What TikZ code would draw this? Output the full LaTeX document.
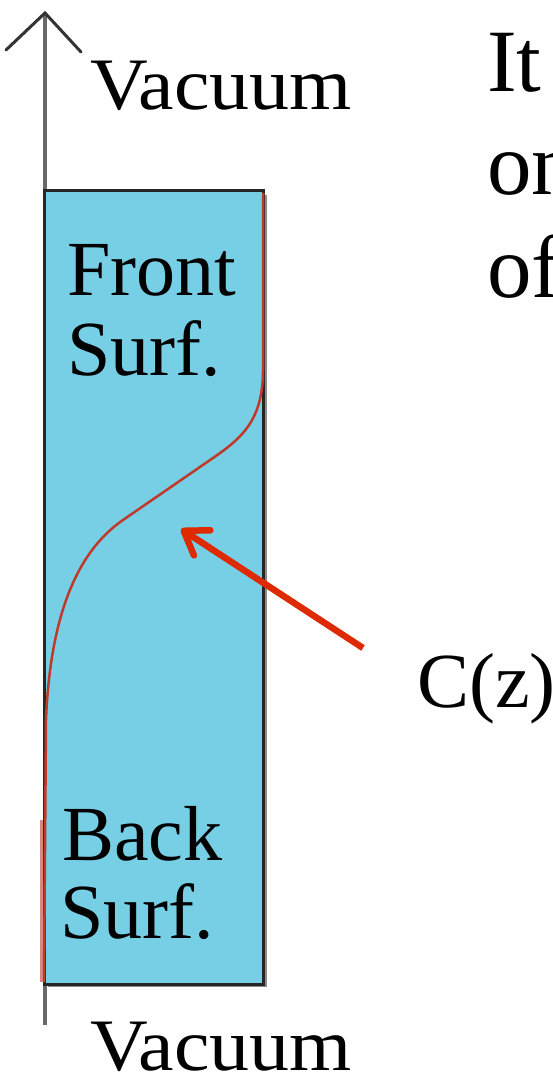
\documentclass[tikz,border=0pt]{standalone}
\usepackage{fontspec}
\setmainfont{Liberation Serif}
\usetikzlibrary{arrows.meta}
\definecolor{slab}{RGB}{118,207,228}
\definecolor{curvered}{RGB}{192,57,43}
\definecolor{arrowred}{RGB}{222,42,0}
\definecolor{axisgray}{RGB}{105,105,105}
\tikzset{
  lbl/.style={anchor=base west, inner sep=0pt, outer sep=0pt, text=black},
  big/.style={lbl, font=\fontsize{78}{80}\selectfont},
  vac/.style={lbl, xscale=1.08, font=\fontsize{74}{76}\selectfont},
  huge/.style={lbl, font=\fontsize{89}{92}\selectfont},
}
\begin{document}
\begin{tikzpicture}[x=1pt,y=-1pt]
\useasboundingbox (0,0) rectangle (552,1078);
\begin{scope}
\clip (0,0) rectangle (552,1078);
% axis
\coordinate (axbot) at (45,1025);
\coordinate (axtop) at (45,13);
\coordinate (hl) at (6,50);
\coordinate (hr) at (81,52);
\draw[axisgray, line width=4pt] (axbot) -- (axtop);
\draw[black!80, line width=3pt, line cap=round, line join=miter] (hl) -- (axtop) -- (hr);
% slab with shadow
\fill[black!45] (48,195) rectangle (267,987);
\draw[black!85, line width=3pt, fill=slab] (44,191) rectangle (263,984);
% stray faint red segment along left edge
\draw[curvered!60, line width=3pt] (41,820) -- (41,982);
% concentration profile
\draw[curvered, line width=2.5pt]
  (263,193) -- (263,370)
  .. controls (263,420) and (242,438) .. (213,458)
  -- (123,520)
  .. controls (75,553) and (50,620) .. (46,720)
  -- (44,982);
% labels
\node[vac] (vtop) at (90,110) {Vacuum};
\node[vac] (vbot) at (90,1070) {Vacuum};
\node[big] (front) at (67,295) {Front};
\node[big] (fsurf) at (67,375) {Surf.};
\node[big] (back) at (62,860) {Back};
\node[big] (bsurf) at (60,938) {Surf.};
\node[big] (cz) at (417,707) {C(z)};
\node[huge] (l1) at (487,92) {It};
\node[huge] (l2) at (487,195) {on};
\node[huge] (l3) at (487,297) {of};
% arrow
\coordinate (atail) at (363,648);
\coordinate (atip) at (181,529);
\draw[arrowred, line width=6.5pt, -{Straight Barb[length=22pt,width=30pt,round]}] (atail) -- (atip);
\end{scope}
\end{tikzpicture}
\end{document}
